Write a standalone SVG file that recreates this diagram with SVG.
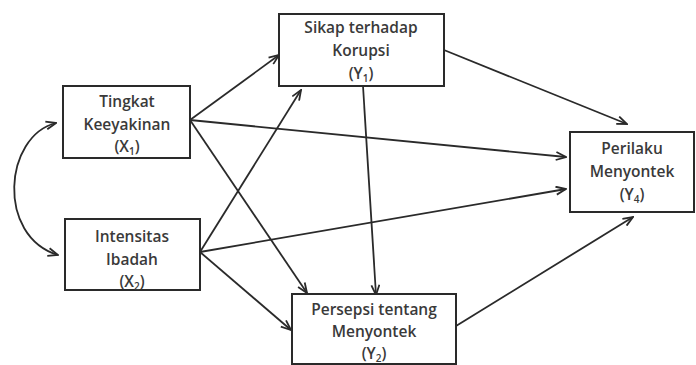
<svg xmlns="http://www.w3.org/2000/svg" width="696" height="365" viewBox="0 0 696 365">
  <style>
    .box { fill: #ffffff; stroke: #2a2a2a; stroke-width: 2; }
    .lbl { font-family: "Open Sans", "Liberation Sans", sans-serif; font-size: 15.5px; font-weight: 600; fill: #3a3a3a; text-anchor: middle; }
    .sub { font-size: 10px; }
    .edge { fill: none; stroke: #2a2a2a; stroke-width: 1.8; }
  </style>
  <defs>
    <marker id="arr" viewBox="0 0 12 10" refX="11" refY="5" markerWidth="12" markerHeight="10" markerUnits="userSpaceOnUse" orient="auto-start-reverse">
      <path d="M1,1 L11,5 L1,9" fill="none" stroke="#2a2a2a" stroke-width="1.8" stroke-linejoin="miter"/>
    </marker>
  </defs>
  <rect width="696" height="365" fill="#ffffff"/>

  <g id="connectors">
    <!-- correlation between the two exogenous variables -->
    <path class="edge" d="M56,123 C4,136 -4,236 58,255" marker-start="url(#arr)" marker-end="url(#arr)"/>
    <!-- from X1 -->
    <line class="edge" x1="190" y1="120" x2="279" y2="55" marker-end="url(#arr)"/>
    <line class="edge" x1="190" y1="120" x2="566" y2="157" marker-end="url(#arr)"/>
    <line class="edge" x1="190" y1="120" x2="307" y2="293" marker-end="url(#arr)"/>
    <!-- from X2 -->
    <line class="edge" x1="200" y1="252" x2="301" y2="90" marker-end="url(#arr)"/>
    <line class="edge" x1="200" y1="252" x2="566" y2="189" marker-end="url(#arr)"/>
    <line class="edge" x1="200" y1="252" x2="291" y2="330" marker-end="url(#arr)"/>
    <!-- from Y1 -->
    <line class="edge" x1="363" y1="86" x2="376" y2="295" marker-end="url(#arr)"/>
    <line class="edge" x1="444" y1="50" x2="627" y2="124" marker-end="url(#arr)"/>
    <!-- from Y2 -->
    <line class="edge" x1="456" y1="326" x2="633" y2="217" marker-end="url(#arr)"/>
  </g>

  <g id="x1">
    <rect class="box" x="63" y="86" width="127" height="72"/>
    <text class="lbl" x="127" y="107">Tingkat</text>
    <text class="lbl" x="127" y="130">Keeyakinan</text>
    <text class="lbl" x="127" y="152">(X<tspan class="sub" dy="3">1</tspan><tspan dy="-3">)</tspan></text>
  </g>

  <g id="x2">
    <rect class="box" x="65" y="219" width="135" height="71"/>
    <text class="lbl" x="132" y="242">Intensitas</text>
    <text class="lbl" x="132" y="265">Ibadah</text>
    <text class="lbl" x="132" y="287">(X<tspan class="sub" dy="3">2</tspan><tspan dy="-3">)</tspan></text>
  </g>

  <g id="y1">
    <rect class="box" x="279" y="14" width="165" height="72"/>
    <text class="lbl" x="361" y="33">Sikap terhadap</text>
    <text class="lbl" x="361" y="56">Korupsi</text>
    <text class="lbl" x="361" y="79">(Y<tspan class="sub" dy="3">1</tspan><tspan dy="-3">)</tspan></text>
  </g>

  <g id="y2">
    <rect class="box" x="292" y="294" width="164" height="70"/>
    <text class="lbl" x="374" y="315">Persepsi tentang</text>
    <text class="lbl" x="374" y="337">Menyontek</text>
    <text class="lbl" x="374" y="359">(Y<tspan class="sub" dy="3">2</tspan><tspan dy="-3">)</tspan></text>
  </g>

  <g id="y4">
    <rect class="box" x="570" y="132" width="124" height="80"/>
    <text class="lbl" x="632" y="154">Perilaku</text>
    <text class="lbl" x="632" y="177">Menyontek</text>
    <text class="lbl" x="632" y="200">(Y<tspan class="sub" dy="3">4</tspan><tspan dy="-3">)</tspan></text>
  </g>
</svg>
